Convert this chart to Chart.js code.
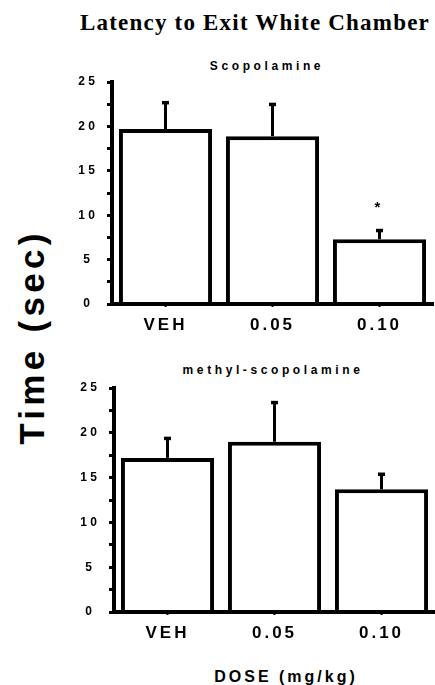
<!DOCTYPE html>
<html>
<head>
<meta charset="utf-8">
<script src="https://cdn.jsdelivr.net/npm/chart.js"></script>
<style>
  html, body { margin: 0; padding: 0; background: #fff; }
  #page { position: relative; width: 435px; height: 685px; overflow: hidden; color: #000;
          font-family: "Liberation Sans", Arial, sans-serif; }
  .lbl { position: absolute; white-space: nowrap; line-height: 1; font-weight: bold; transform: translateX(-50%); }
  #title { font-family: "Liberation Serif", "Times New Roman", serif; font-size: 23px; letter-spacing: 1.2px; left: 255px; top: 11px; }
  #sub1 { font-size: 12px; letter-spacing: 3.6px; left: 267px; top: 60px; }
  #sub2 { font-size: 12px; letter-spacing: 3.6px; left: 273px; top: 364px; }
  #xtitle { font-size: 16px; letter-spacing: 3px; left: 286px; top: 669px; }
  #ytitle { font-size: 35px; letter-spacing: 4.3px; left: 31px; top: 337px; transform: translate(-50%, -50%) rotate(-90deg); }
  canvas { position: absolute; left: 0; }
  #c1 { top: 40px; }
  #c2 { top: 345px; }
</style>
</head>
<body>
<div id="page">
  <div class="lbl" id="title">Latency to Exit White Chamber</div>
  <div class="lbl" id="sub1">Scopolamine</div>
  <div class="lbl" id="sub2">methyl-scopolamine</div>
  <div class="lbl" id="ytitle">Time (sec)</div>
  <div class="lbl" id="xtitle">DOSE (mg/kg)</div>
  <canvas id="c1" width="435" height="305"></canvas>
  <canvas id="c2" width="435" height="305"></canvas>
</div>
<script>
// doses and values (seconds)
const doses = ['VEH', '0.05', '0.10'];
const scopMeans = [19.7, 18.9, 7.3];
const scopSem = [3.0, 3.6, 1.0];
const scopMarks = ['', '', '*'];
const methylMeans = [17.2, 19.0, 13.7];
const methylSem = [2.2, 4.4, 1.7];
const methylMarks = ['', '', ''];
const yTicks = [0, 5, 10, 15, 20, 25];

const FONT = '"Liberation Sans", Arial, sans-serif';

// upper error bar + significance star
const errorBars = {
  id: 'errorBars',
  afterDatasetsDraw(chart, args, opts) {
    const ctx = chart.ctx;
    const y = chart.scales.y;
    const meta = chart.getDatasetMeta(0);
    const means = chart.data.datasets[0].data;
    ctx.save();
    ctx.letterSpacing = '0px';
    ctx.strokeStyle = '#000';
    ctx.fillStyle = '#000';
    meta.data.forEach(function(bar, i) {
      const top = y.getPixelForValue(means[i]);
      const end = y.getPixelForValue(means[i] + opts.sem[i]);
      ctx.lineWidth = 3;
      ctx.beginPath();
      ctx.moveTo(bar.x, top);
      ctx.lineTo(bar.x, end);
      ctx.stroke();
      ctx.fillRect(bar.x - 3.5, end - 1.5, 7, 3.5);
      if (opts.marks[i]) {
        ctx.font = 'bold 15px ' + FONT;
        ctx.textAlign = 'center';
        ctx.textBaseline = 'middle';
        ctx.fillText(opts.marks[i], bar.x - 2, end - 22);
      }
    });
    ctx.restore();
  }
};

// spaced-out lettering like the original figure
const spacing = {
  id: 'spacing',
  beforeDraw(chart) { chart.ctx.letterSpacing = '3.5px'; },
  afterDatasetsDraw(chart) { chart.ctx.letterSpacing = '3px'; },
  afterDraw(chart) { chart.ctx.letterSpacing = '0px'; }
};

function makeChart(id, means, sem, marks, yWidth, pad, xHeight) {
  return new Chart(document.getElementById(id), {
    type: 'bar',
    data: {
      labels: doses,
      datasets: [{
        data: means,
        backgroundColor: '#fff',
        borderColor: '#000',
        borderWidth: 4,
        barPercentage: 0.87,
        categoryPercentage: 1
      }]
    },
    options: {
      responsive: false,
      animation: false,
      layout: { padding: pad },
      plugins: {
        legend: { display: false },
        tooltip: { enabled: false },
        errorBars: { sem: sem, marks: marks }
      },
      scales: {
        x: {
          border: { display: true, color: '#000', width: 4, z: 1 },
          grid: { drawOnChartArea: false, offset: false, tickLength: 3, tickWidth: 2, tickColor: '#000' },
          ticks: { z: 1, color: '#000', padding: 8, font: { family: FONT, size: 17, weight: 'bold' } },
          afterFit: function(s) { s.height = xHeight; }
        },
        y: {
          min: 0,
          max: 25,
          border: { display: true, color: '#000', width: 4 },
          grid: { drawOnChartArea: false, tickLength: 5, tickWidth: 3, tickColor: '#000' },
          ticks: {
            stepSize: 2.5,
            autoSkip: false,
            crossAlign: 'center',
            padding: 12,
            color: '#000',
            font: { family: FONT, size: 12, weight: 'bold' },
            callback: function(v) { return yTicks.includes(v) ? String(v) : ''; }
          },
          afterFit: function(s) { s.width = yWidth; }
        }
      }
    },
    plugins: [errorBars, spacing]
  });
}

makeChart('c1', scopMeans, scopSem, scopMarks, 112, { top: 42, right: 2, left: 0, bottom: 0 }, 41);
makeChart('c2', methylMeans, methylSem, methylMarks, 114, { top: 43, right: 0, left: 0, bottom: 0 }, 38);
</script>
</body>
</html>
